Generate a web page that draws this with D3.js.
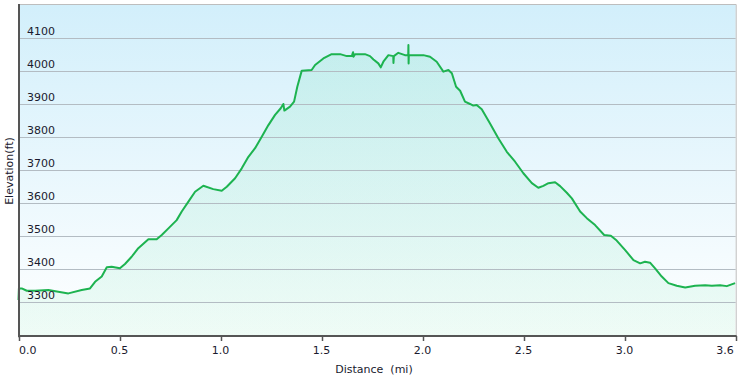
<!DOCTYPE html>
<html><head><meta charset="utf-8">
<script src="https://cdn.jsdelivr.net/npm/d3@7"></script>
<style>body{margin:0;background:#fff}svg{display:block}</style>
</head><body><svg id="c" width="741" height="381"></svg>
<script>
const distance = [0,0.002,0.016,0.041,0.082,0.148,0.197,0.247,0.313,0.354,0.379,0.412,0.437,0.461,0.502,0.527,0.560,0.593,0.643,0.684,0.709,0.742,0.783,0.808,0.841,0.874,0.915,0.964,1.006,1.031,1.072,1.105,1.138,1.171,1.204,1.237,1.270,1.298,1.311,1.316,1.344,1.364,1.380,1.402,1.451,1.468,1.509,1.550,1.592,1.625,1.650,1.656,1.658,1.666,1.715,1.740,1.757,1.781,1.793,1.806,1.831,1.855,1.856,1.858,1.880,1.913,1.929,1.930,1.931,1.932,1.947,2.004,2.037,2.070,2.103,2.128,2.145,2.166,2.186,2.210,2.235,2.251,2.268,2.293,2.334,2.375,2.417,2.458,2.499,2.541,2.573,2.598,2.623,2.656,2.681,2.714,2.739,2.780,2.813,2.854,2.899,2.932,2.961,3.003,3.044,3.077,3.101,3.126,3.151,3.184,3.217,3.258,3.300,3.349,3.399,3.432,3.473,3.506,3.547];
const elevation = [3307,3342,3342,3335,3335,3337,3332,3327,3337,3342,3362,3378,3406,3408,3403,3416,3438,3464,3491,3491,3504,3524,3549,3575,3605,3635,3653,3643,3638,3650,3676,3706,3741,3767,3802,3837,3868,3888,3901,3881,3893,3908,3953,4002,4004,4019,4039,4052,4052,4046,4046,4058,4044,4052,4052,4046,4036,4024,4012,4029,4049,4046,4025,4046,4056,4049,4049,4080,4024,4049,4049,4049,4044,4029,3999,4004,3994,3953,3941,3908,3901,3896,3898,3885,3842,3797,3756,3726,3691,3661,3647,3653,3661,3664,3652,3632,3615,3575,3555,3534,3504,3502,3487,3458,3428,3418,3423,3420,3403,3378,3358,3350,3345,3350,3352,3350,3352,3349,3358];
const yTicks = [3300,3400,3500,3600,3700,3800,3900,4000,4100];
const xTicks = [0,0.5,1.0,1.5,2.0,2.5,3.0,3.55];
const xTickLabels = ["0.0","0.5","1.0","1.5","2.0","2.5","3.0","3.6"];

const data = distance.map((d,i)=>({d, e: elevation[i]}));
const svg = d3.select("#c");
const L = 18.5, R = 735.7, T = 5.3, B = 335.3;
const x = d3.scaleLinear().domain([0,3.55]).range([L,R]);
const y = d3.scaleLinear().domain([3200,4200]).range([B,T]);
const font = "'DejaVu Sans', Verdana, sans-serif";

const defs = svg.append("defs");
const bg = defs.append("linearGradient").attr("id","bg").attr("x1",0).attr("y1",0).attr("x2",0).attr("y2",1);
bg.append("stop").attr("offset","0%").attr("stop-color","#d2effb");
bg.append("stop").attr("offset","100%").attr("stop-color","#ffffff");
const ag = defs.append("linearGradient").attr("id","ag").attr("x1",0).attr("y1",0).attr("x2",0).attr("y2",1);
ag.append("stop").attr("offset","0%").attr("stop-color","#34d58a").attr("stop-opacity",0.12);
ag.append("stop").attr("offset","100%").attr("stop-color","#34d58a").attr("stop-opacity",0.08);

svg.append("rect").attr("x",L).attr("y",4).attr("width",R-L).attr("height",B+1-4).attr("fill","url(#bg)");

svg.append("path").datum(data)
  .attr("d", d3.area().x(p=>x(p.d)).y0(B).y1(p=>y(p.e)))
  .attr("fill","url(#ag)");

// gridlines
svg.append("g").selectAll("line").data(yTicks).join("line")
  .attr("x1",L).attr("x2",R)
  .attr("y1",v=>Math.round(y(v))+0.5).attr("y2",v=>Math.round(y(v))+0.5)
  .attr("stroke","#b3bcc3").attr("stroke-width",1);

// top and right border
svg.append("line").attr("x1",L).attr("x2",R+0.5).attr("y1",4.5).attr("y2",4.5).attr("stroke","#bdbdbd");
svg.append("line").attr("x1",R+0.5).attr("x2",R+0.5).attr("y1",4.5).attr("y2",B).attr("stroke","#bdbdbd");

// line
svg.append("path").datum(data)
  .attr("d", d3.line().x(p=>x(p.d)).y(p=>y(p.e)))
  .attr("fill","none").attr("stroke","#1db350").attr("stroke-width",2).attr("stroke-linejoin","round");

// y labels
svg.append("g").selectAll("text").data(yTicks).join("text")
  .attr("x",27).attr("y",v=>y(v)-3.5)
  .attr("font-family",font).attr("font-size",11).attr("fill","#1a1a2e")
  .text(v=>v);

// left axis
svg.append("line").attr("x1",19).attr("x2",19).attr("y1",4).attr("y2",B+2).attr("stroke","#555").attr("stroke-width",2);
// bottom axis
svg.append("line").attr("x1",18).attr("x2",R+1).attr("y1",336).attr("y2",336).attr("stroke","#555").attr("stroke-width",2);

const xg = svg.append("g");
xg.selectAll("line").data(xTicks).join("line")
  .attr("x1",v=>Math.round(x(v))+0.5).attr("x2",v=>Math.round(x(v))+0.5)
  .attr("y1",336).attr("y2",341).attr("stroke","#555").attr("stroke-width",1.5);
xg.selectAll("text").data(xTicks).join("text")
  .attr("x",v=>x(v)).attr("y",354)
  .attr("text-anchor",(v,i)=> i===0 ? "start" : (i===xTicks.length-1 ? "end" : "middle"))
  .attr("dx",(v,i)=> i===0 ? 0.5 : (i===xTicks.length-1 ? -2 : 0))
  .attr("font-family",font).attr("font-size",11).attr("fill","#1a1a2e")
  .text((v,i)=>xTickLabels[i]);

svg.append("text").attr("x",374).attr("y",373).attr("text-anchor","middle")
  .style("white-space","pre")
  .attr("font-family",font).attr("font-size",11).attr("fill","#1a1a2e")
  .text("Distance  (mi)");

svg.append("text").attr("transform","translate(13,171) rotate(-90)").attr("text-anchor","middle")
  .attr("font-family",font).attr("font-size",11).attr("fill","#1a1a2e")
  .text("Elevation(ft)");
</script></body></html>
